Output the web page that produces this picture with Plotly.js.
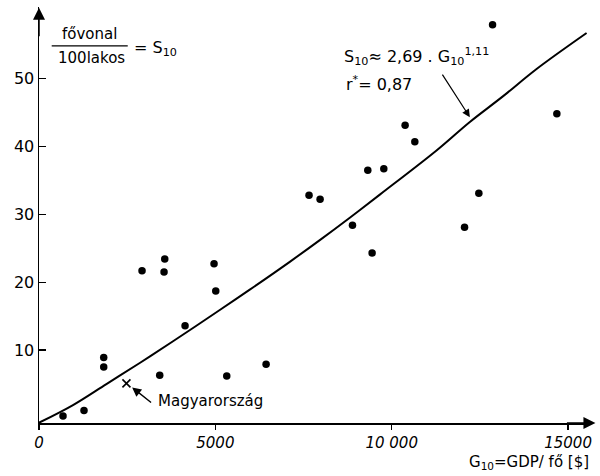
<!DOCTYPE html>
<html>
<head>
<meta charset="utf-8">
<script src="https://cdn.plot.ly/plotly-3.0.1.min.js"></script>
<style>html,body{margin:0;padding:0;background:#fff;}#chart{width:600px;height:476px;}</style>
</head>
<body>
<div id="chart"></div>
<script>
// Country points: GDP per capita (G10, $) and main lines per 100 inhabitants (S10)
const countryG = [681, 1276, 1835, 1835, 2921, 3565, 3545, 3423, 4141, 4963, 5011, 5323, 6438,
  7656, 7969, 8888, 9322, 9444, 9776, 10380, 10655, 12065, 12470, 12859, 14682];
const countryS = [0.3, 1.1, 8.9, 7.5, 21.7, 23.4, 21.5, 6.3, 13.6, 22.7, 18.7, 6.2, 7.9,
  32.8, 32.2, 28.4, 36.5, 24.3, 36.7, 43.1, 40.7, 28.1, 33.1, 57.9, 44.8];

// Hungary (marked with x)
const hunG = [2479];
const hunS = [5.1];

// Fitted curve
const fitG = [0, 964, 1911, 2856, 3800, 5125, 5976, 7110, 7961, 8812, 9663, 11270, 12215, 13160, 14107, 15525];
const fitS = [-0.7, 1.9, 5.0, 8.1, 11.3, 15.9, 18.9, 23.0, 26.2, 29.5, 32.9, 39.4, 43.6, 47.4, 51.4, 56.7];

const xTickVals = [0, 5000, 10000, 15000];
const xTickText = ['0', '5000', '10 000', '15000'];
const yTickVals = [10, 20, 30, 40, 50];
const yTickText = ['10', '20', '30', '40', '50'];

const FONT = 'DejaVu Sans, Liberation Sans, sans-serif';

const traces = [
  {x: fitG, y: fitS, mode: 'lines', type: 'scatter', line: {color: '#000', width: 2, shape: 'spline', smoothing: 1}, hoverinfo: 'skip'},
  {x: countryG, y: countryS, mode: 'markers', type: 'scatter', marker: {color: '#000', size: 7.5}, hoverinfo: 'skip'},
  {x: hunG, y: hunS, mode: 'markers', type: 'scatter', marker: {symbol: 'x-thin-open', color: '#000', size: 8, line: {color: '#000', width: 1.6}}, hoverinfo: 'skip'}
];

const layout = {
  width: 600, height: 476,
  margin: {l: 39, r: 9, t: 7, b: 53},
  paper_bgcolor: '#fff', plot_bgcolor: '#fff',
  showlegend: false,
  font: {family: FONT, color: '#000'},
  xaxis: {
    range: [0, 15650], showgrid: false, zeroline: false,
    showline: true, linecolor: '#000', linewidth: 1.5,
    tickmode: 'array', tickvals: xTickVals, ticktext: xTickText,
    ticks: 'outside', ticklen: 5, tickwidth: 1.2, tickcolor: '#000',
    tickfont: {family: FONT, size: 15, style: 'italic', color: '#000'}
  },
  yaxis: {
    range: [-0.74, 60.53], showgrid: false, zeroline: false,
    showline: true, linecolor: '#000', linewidth: 1.5,
    tickmode: 'array', tickvals: yTickVals, ticktext: yTickText,
    ticks: 'inside', ticklen: 7, tickwidth: 1.2, tickcolor: '#000',
    tickfont: {family: FONT, size: 16, color: '#000'}
  },
  shapes: [
    {type: 'line', xref: 'x', yref: 'y', x0: 360, x1: 2516, y0: 54.8, y1: 54.8, line: {color: '#000', width: 1.3}}
  ],
  annotations: [
    // axis arrows
    {xref: 'paper', yref: 'paper', x: 0, y: 0.998, ax: 0, ay: 30, text: '', showarrow: true, arrowhead: 2, arrowsize: 1.6, arrowwidth: 1.5, arrowcolor: '#000'},
    {xref: 'paper', yref: 'paper', x: 1.008, y: 0, ax: -30, ay: 0, text: '', showarrow: true, arrowhead: 2, arrowsize: 1.6, arrowwidth: 1.5, arrowcolor: '#000'},
    // fraction label
    {xref: 'x', yref: 'y', x: 1440, y: 56.5, text: 'fővonal', showarrow: false, font: {size: 15, family: FONT}},
    {xref: 'x', yref: 'y', x: 1480, y: 53.0, text: '100lakos', showarrow: false, font: {size: 15, family: FONT}},
    {xref: 'x', yref: 'y', x: 2640, y: 54.4, xanchor: 'left', text: '= S<sub>10</sub>', showarrow: false, font: {size: 16, family: FONT}},
    // equation
    {xref: 'x', yref: 'y', x: 8600, y: 53.3, xanchor: 'left', text: 'S<sub>10</sub>≈ 2,69 . G<sub>10</sub><sup>1,11</sup>', showarrow: false, font: {size: 16, family: FONT}},
    {xref: 'x', yref: 'y', x: 8660, y: 49.2, xanchor: 'left', text: 'r<sup>*</sup>= 0,87', showarrow: false, font: {size: 16, family: FONT}},
    {xref: 'x', yref: 'y', x: 12215, y: 44.3, axref: 'x', ayref: 'y', ax: 11410, ay: 50.8, text: '', showarrow: true, arrowhead: 2, arrowsize: 1.3, arrowwidth: 1.2, arrowcolor: '#000'},
    // Hungary label
    {xref: 'x', yref: 'y', x: 3320, y: 2.5, xanchor: 'left', text: 'Magyarország', showarrow: false, font: {size: 15, family: FONT}},
    {xref: 'x', yref: 'y', x: 2640, y: 4.5, axref: 'x', ayref: 'y', ax: 3220, ay: 2.1, text: '', showarrow: true, arrowhead: 2, arrowsize: 1.3, arrowwidth: 1.4, arrowcolor: '#000'},
    // x axis title
    {xref: 'paper', yref: 'paper', x: 1.0, y: -0.094, xanchor: 'right', yanchor: 'middle', text: 'G<sub>10</sub>=GDP/ fő [$]', showarrow: false, font: {size: 15, family: FONT}}
  ]
};

Plotly.newPlot('chart', traces, layout, {staticPlot: true, displayModeBar: false});
</script>
</body>
</html>
